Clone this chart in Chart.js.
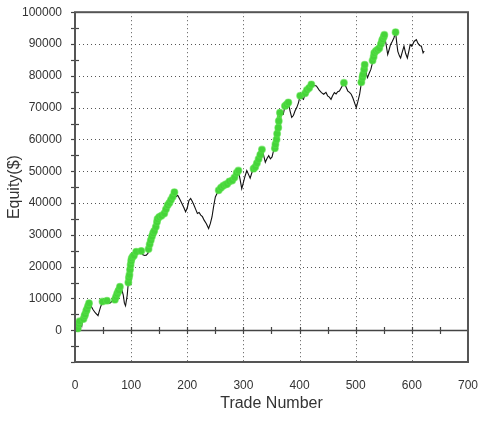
<!DOCTYPE html>
<html><head><meta charset="utf-8">
<script src="https://cdn.jsdelivr.net/npm/chart.js@4"></script>
<style>html,body{margin:0;padding:0;background:#fff}</style>
</head><body>
<canvas id="c" width="486" height="422"></canvas>
<script>
const trades=[0,3,5,7,8,10,12,13,15,17,18,20,21,23,25,28,32,36,41,45,49,53,57,62,66,71,73,75,77,78,80,83,86,88,90,93,95,96,97,98,99,100,101,103,105,109,113,118,121,124,127,130,131,133,135,137,139,141,144,146,147,150,154,159,162,165,168,171,174,177,180,183,186,190,194,197,200,203,206,209,212,215,218,221,224,227,230,234,238,241,244,247,250,253,256,260,264,268,271,275,280,284,288,291,294,297,300,303,306,309,312,315,318,321,324,327,330,333,336,339,342,345,348,351,353,356,357,359,360,362,363,365,368,371,374,377,380,383,386,389,392,395,398,401,404,407,410,413,417,421,425,430,435,439,443,447,450,453,456,459,462,465,468,471,475,479,482,486,489,492,495,498,501,504,507,509,510,512,513,515,516,519,521,524,527,529,530,532,533,536,539,542,545,547,548,550,551,554,557,560,562,565,568,571,573,575,578,580,583,586,589,592,595,597,600,604,608,611,614,617,620,622];
const equity=[0,-300,500,2000,2800,1800,1200,2500,3500,4500,5000,6000,6500,7500,8500,7800,6500,5500,4600,7000,9000,8600,9300,8500,9100,9600,10500,11500,12200,12600,13700,13000,11000,8500,7700,11000,15000,16500,17400,19000,20500,21800,22600,23200,23500,24700,24200,24900,23700,23500,23600,24200,25500,27000,28300,29500,30500,31200,32500,34000,35000,35600,36000,36700,38000,39300,40000,41000,42000,43400,42000,42400,41400,40000,38500,37200,38500,40800,41400,40500,39300,38000,36700,37000,36200,35700,34600,33500,32000,33500,35600,39000,41900,43000,44000,44800,45400,45800,46000,46800,47100,48000,49500,50200,47500,44500,46500,48500,50200,49000,47800,49500,50800,51300,52500,53800,55200,56800,55000,52800,54000,54900,53900,54500,56000,57200,58500,60000,61800,63700,65800,68400,68000,67900,70500,71000,71600,69000,66900,67500,69000,70000,71500,73700,73000,72600,74500,75500,76200,77300,77000,76800,75500,74700,74200,74800,73700,73300,72600,73800,74700,74300,75000,75200,76500,77800,76800,75200,74800,74200,73000,71500,70000,72000,74200,76500,78000,79500,80400,82000,83500,80500,79400,80800,82000,83500,84800,86000,87200,87800,88200,88700,90000,91000,91500,92300,92900,90000,86700,88500,89800,90800,91900,93700,90500,87700,86200,85600,87500,89300,87000,85600,88000,89800,89300,90800,91400,90200,89500,89300,87200,87800];
const xTicks=[0,100,200,300,400,500,600,700];
const yTicks=[0,10000,20000,30000,40000,50000,60000,70000,80000,90000,100000];
const yMin=-10000, yMax=100000, xMin=0, xMax=700;

const linePts=trades.map((t,i)=>({x:t,y:equity[i]}));
// new-equity-high markers, with a break wherever highs are not consecutive trades in the list
const highPts=[];
let runMax=0, lastIdx=-2;
trades.forEach((t,i)=>{
  if(equity[i]>runMax){
    runMax=equity[i];
    if(lastIdx!==i-1 && highPts.length) highPts.push({x:t,y:null});
    highPts.push({x:t,y:equity[i]});
    lastIdx=i;
  }
});

const deco={
  id:'deco',
  beforeDatasetsDraw(chart){
    const {ctx,chartArea:a,scales:{x,y}}=chart;
    ctx.save();
    ctx.strokeStyle='#555';ctx.lineWidth=1;ctx.setLineDash([1,3]);
    xTicks.forEach(v=>{ if(v>xMin&&v<xMax){const px=Math.round(x.getPixelForValue(v))+0.5;ctx.beginPath();ctx.moveTo(px,a.top);ctx.lineTo(px,a.bottom);ctx.stroke();}});
    yTicks.forEach(v=>{ if(v>0&&v<yMax){const py=Math.round(y.getPixelForValue(v))+0.5;ctx.beginPath();ctx.moveTo(a.left,py);ctx.lineTo(a.right,py);ctx.stroke();}});
    ctx.setLineDash([]);
    const zy=Math.round(y.getPixelForValue(0))+0.5;
    ctx.strokeStyle='#444';ctx.lineWidth=1.5;
    ctx.beginPath();ctx.moveTo(a.left,zy);ctx.lineTo(a.right,zy);ctx.stroke();
    ctx.lineWidth=1.2;
    for(let v=50;v<xMax;v+=50){const px=Math.round(x.getPixelForValue(v))+0.5;ctx.beginPath();ctx.moveTo(px,zy-3.5);ctx.lineTo(px,zy+3.5);ctx.stroke();}
    for(let v=yMin;v<=yMax;v+=5000){
      const py=Math.round(y.getPixelForValue(v))+0.5;
      ctx.beginPath();
      if(v%10000===0){ctx.moveTo(a.left-4,py);ctx.lineTo(a.left,py);}
      else {ctx.moveTo(a.left-4,py);ctx.lineTo(a.left+4,py);}
      ctx.stroke();
    }
    ctx.restore();
  },
  afterDraw(chart){
    const {ctx,chartArea:a}=chart;
    ctx.save();
    ctx.strokeStyle='#555';ctx.lineWidth=2;
    ctx.strokeRect(a.left,a.top,a.right-a.left,a.bottom-a.top);
    ctx.fillStyle='#333';
    ctx.font='16px "Liberation Sans", Arial, sans-serif';
    ctx.textAlign='center';ctx.textBaseline='middle';
    ctx.fillText('Trade Number',(a.left+a.right)/2,404);
    ctx.translate(15,(a.top+a.bottom)/2);ctx.rotate(-Math.PI/2);
    ctx.fillText('Equity($)',0,0);
    ctx.restore();
  }
};

new Chart(document.getElementById('c'),{
  type:'scatter',
  data:{datasets:[
    {label:'New highs',data:highPts,showLine:true,spanGaps:false,borderColor:'rgba(70,212,55,0.9)',borderWidth:5,borderCapStyle:'round',borderJoinStyle:'round',
     pointRadius:3.4,pointBackgroundColor:'#46d43a',pointBorderColor:'rgba(90,225,75,0.55)',pointBorderWidth:1.2,order:0},
    {label:'Equity',data:linePts,showLine:true,borderColor:'#111',borderWidth:1.1,pointRadius:0,tension:0,order:1}
  ]},
  options:{
    responsive:false,devicePixelRatio:1,animation:false,
    layout:{padding:{top:11,right:15,left:0,bottom:0}},
    plugins:{legend:{display:false},tooltip:{enabled:false}},
    scales:{
      x:{type:'linear',min:xMin,max:xMax,
        afterBuildTicks(s){s.ticks=xTicks.map(v=>({value:v}));},
        afterFit(s){s.height=60;},
        grid:{display:false},border:{display:false},
        ticks:{padding:8,color:'#333',font:{family:'"Liberation Sans", Arial, sans-serif',size:12},autoSkip:false,maxRotation:0,callback:v=>String(v)}},
      y:{type:'linear',min:yMin,max:yMax,
        afterBuildTicks(s){s.ticks=yTicks.map(v=>({value:v}));},
        afterFit(s){s.width=75;},
        grid:{display:false},border:{display:false},
        ticks:{padding:5,color:'#333',font:{family:'"Liberation Sans", Arial, sans-serif',size:12},autoSkip:false,callback:v=>String(v)}}
    }
  },
  plugins:[deco]
});
</script>
</body></html>
